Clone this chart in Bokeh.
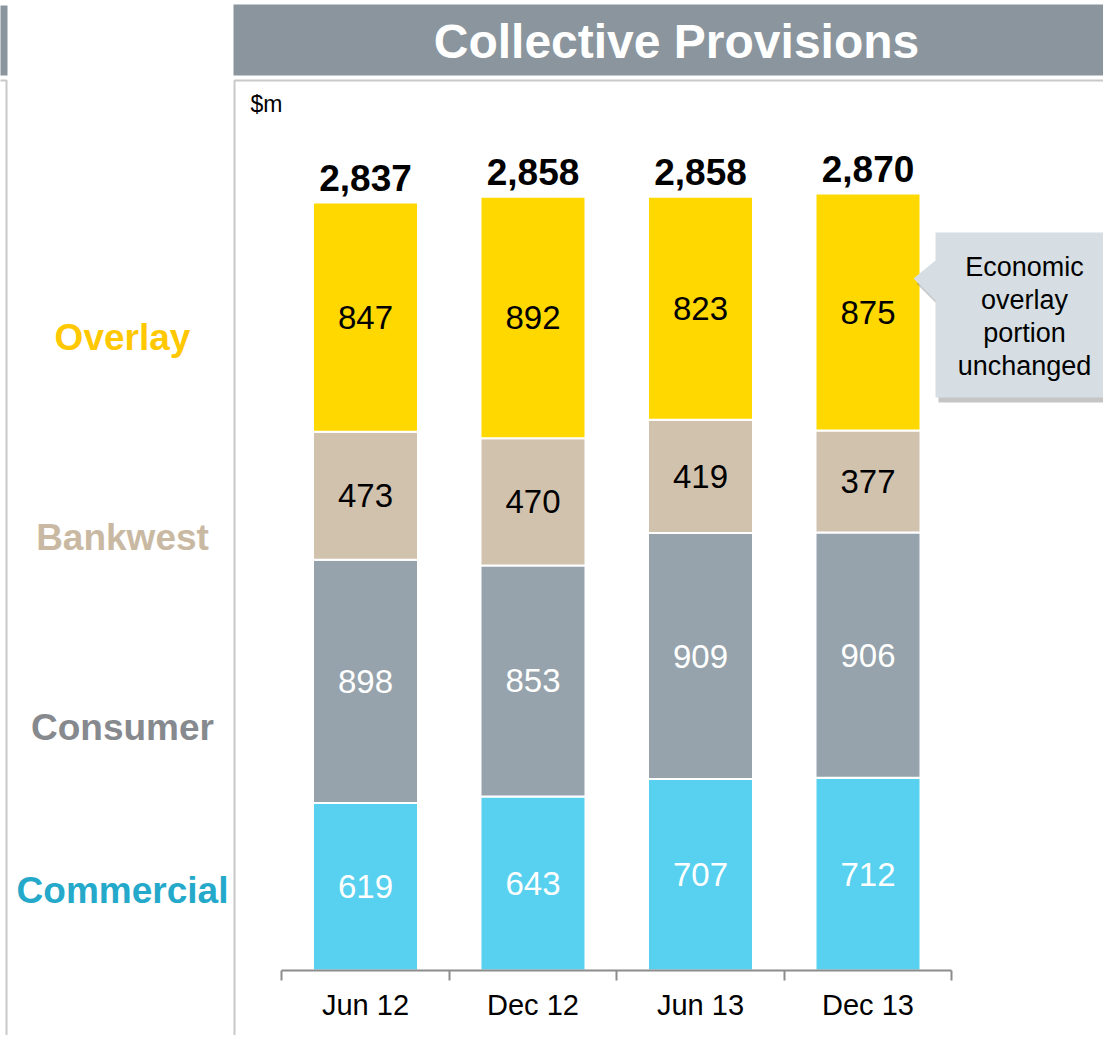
from bokeh.plotting import figure
from bokeh.models import ColumnDataSource, Range1d, LinearAxis, FixedTicker
from bokeh.core.properties import value
from bokeh.embed import file_html
from bokeh.resources import INLINE
import numpy as np

# ---------------- data ----------------
periods = ["Jun 12", "Dec 12", "Jun 13", "Dec 13"]
commercial = [619, 643, 707, 712]
consumer = [898, 853, 909, 906]
bankwest = [473, 470, 419, 377]
overlay = [847, 892, 823, 875]
totals = [2837, 2858, 2858, 2870]
segment_names = ["Commercial", "Consumer", "Bankwest", "Overlay"]
title_text = "Collective Provisions"
unit_text = "$m"
callout_lines = ["Economic", "overlay", "portion", "unchanged"]

# ---------------- styles ----------------
FONT = "Liberation Sans"
seg_colors = ["#57D1EF", "#96A3AC", "#D1C2AE", "#FFD800"]
seg_text_colors = ["white", "white", "black", "black"]
left_label_colors = ["#24A9CA", "#86898D", "#C9B9A3", "#FFC800"]
left_label_py = [890, 727, 537, 337]
HEADER = "#8A959E"
BORDER = "#C8C8C8"

# ---------------- layout helpers (canvas pixels -> data) ----------------
W, H = 1103, 1035
X_UNIT_PX = 167.5
X1_PX = 365.0
BASE_PX = 970.0
PX_PER_VAL = 0.2707


def dx(px):
    return 1 + (px - X1_PX) / X_UNIT_PX


def dy(py):
    return (BASE_PX - py) / PX_PER_VAL


xs = list(range(1, len(periods) + 1))
data = dict(x=xs, Commercial=commercial, Consumer=consumer,
            Bankwest=bankwest, Overlay=overlay, total=totals,
            total_lbl=[f"{t:,}" for t in totals])
src = ColumnDataSource(data)

p = figure(width=W, height=H, output_backend="svg", toolbar_location=None,
           x_range=Range1d(dx(0), dx(W)), y_range=Range1d(dy(H), dy(0)),
           x_axis_location=None, y_axis_location=None, min_border=0,
           outline_line_color=None, background_fill_color="white",
           border_fill_color="white")
p.grid.visible = False

# header bands and panel borders
p.quad(left=[dx(233), dx(-10)], right=[dx(1120), dx(7)],
       top=[dy(4), dy(5)], bottom=[dy(75), dy(75)],
       fill_color=HEADER, line_color=None)
p.text(x=[dx(676)], y=[dy(41)], text=[title_text], text_color="white",
       text_font=value(FONT), text_font_style="bold", text_font_size="48px",
       text_align="center", text_baseline="middle")
p.line(x=[dx(234), dx(234), dx(1120)], y=[dy(1050), dy(80), dy(80)],
       line_color=BORDER, line_width=2)
p.line(x=[dx(-10), dx(6), dx(6)], y=[dy(80), dy(80), dy(1050)],
       line_color=BORDER, line_width=2)

p.text(x=[dx(250)], y=[dy(103)], text=[unit_text], text_color="black",
       text_font=value(FONT), text_font_size="23px",
       text_align="left", text_baseline="middle")

# stacked bars
p.vbar_stack(segment_names, x="x", width=105 / X_UNIT_PX, color=seg_colors,
             line_color="white", line_width=2, source=src)

# segment labels
bottom = np.zeros(len(periods))
for name, vals, tc in zip(segment_names, [commercial, consumer, bankwest, overlay], seg_text_colors):
    v = np.array(vals, dtype=float)
    mid = bottom + v / 2
    p.text(x=xs, y=list(mid), text=[str(int(a)) for a in v], text_color=tc,
           text_font=value(FONT), text_font_size="33px",
           text_align="center", text_baseline="middle")
    bottom = bottom + v

# totals
p.text(x="x", y="total", text="total_lbl", source=src, text_color="black",
       text_font=value(FONT), text_font_style="bold", text_font_size="37px",
       text_align="center", text_baseline="middle", y_offset=-25)

# left-hand series labels
for name, col, py in zip(segment_names, left_label_colors, left_label_py):
    p.text(x=[dx(122)], y=[dy(py)], text=[name], text_color=col,
           text_font=value(FONT), text_font_style="bold", text_font_size="37px",
           text_align="center", text_baseline="middle")

# callout
sh = 5
box_x = [935, 935, 913, 935, 935, 1125, 1125]
box_y = [232, 260, 278, 300, 397, 397, 232]
p.patch([dx(a + 3) for a in box_x], [dy(b + sh) for b in box_y],
        fill_color="#7F7F7F", fill_alpha=0.45, line_color=None)
p.patch([dx(a) for a in box_x], [dy(b) for b in box_y],
        fill_color="#D6DEE3", line_color=None)
for i, line in enumerate(callout_lines):
    p.text(x=[dx(1024)], y=[dy(266 + i * 33)], text=[line], text_color="black",
           text_font=value(FONT), text_font_size="27px",
           text_align="center", text_baseline="middle")

# x axis
ticker = FixedTicker(ticks=xs, minor_ticks=[x - 0.5 for x in xs] + [xs[-1] + 0.5])
xaxis = LinearAxis(ticker=ticker, fixed_location=0,
                   bounds=(xs[0] - 0.5, xs[-1] + 0.5),
                   major_label_overrides={x: lbl for x, lbl in zip(xs, periods)})
xaxis.axis_line_color = "#8C8C8C"
xaxis.axis_line_width = 2
xaxis.major_tick_line_color = None
xaxis.major_tick_in = 0
xaxis.major_tick_out = 0
xaxis.minor_tick_line_color = "#8C8C8C"
xaxis.minor_tick_line_width = 2
xaxis.minor_tick_in = 0
xaxis.minor_tick_out = 10
xaxis.major_label_standoff = 8
xaxis.major_label_text_font = FONT
xaxis.major_label_text_font_size = "29px"
xaxis.major_label_text_color = "black"
p.add_layout(xaxis, "below")

open("out.html", "w").write(file_html(p, INLINE))
